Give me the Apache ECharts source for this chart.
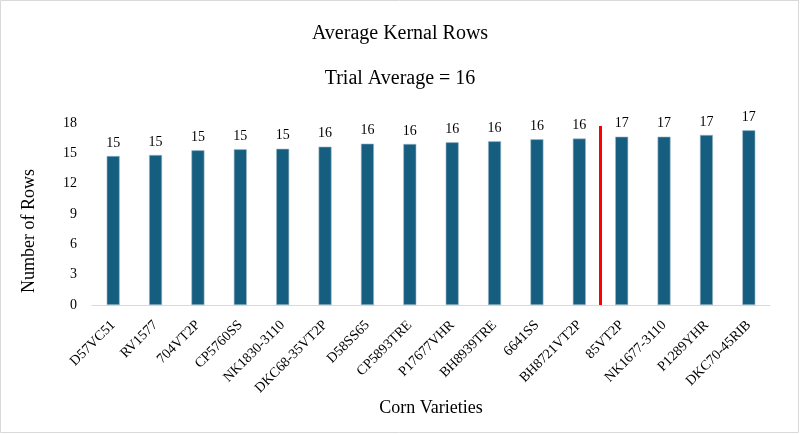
<!DOCTYPE html>
<html><head><meta charset="utf-8">
<script src="https://cdn.jsdelivr.net/npm/echarts@6/dist/echarts.min.js"></script>
<style>html,body{margin:0;padding:0;background:#fff}#c{width:800px;height:434px}</style>
</head><body><div id="c"></div>
<script>
const varieties = ["D57VC51","RV1577","704VT2P","CP5760SS","NK1830-3110","DKC68-35VT2P","D58SS65","CP5893TRE","P17677VHR","BH8939TRE","6641SS","BH8721VT2P","85VT2P","NK1677-3110","P1289YHR","DKC70-45RIB"];
const avgRows = [14.74,14.84,15.3,15.4,15.45,15.66,15.96,15.93,16.09,16.19,16.39,16.46,16.65,16.65,16.82,17.28];
const yTicks = [0,3,6,9,12,15,18];
const trialLineX = 11.5;
const trialLineTop = 17.7;
const font = "'Liberation Serif','Times New Roman',serif";

const chart = echarts.init(document.getElementById('c'));
chart.setOption({
  backgroundColor:'#fff',
  animation:false,
  title:[
    {text:'Average Kernal Rows',left:'center',top:19,textStyle:{fontFamily:font,fontSize:20,fontWeight:'normal',color:'#000'}},
    {text:'Trial Average = 16',left:'center',top:64,textStyle:{fontFamily:font,fontSize:20,fontWeight:'normal',color:'#000'}}
  ],
  graphic:[{type:'rect',shape:{x:0.5,y:0.5,width:798,height:432},style:{fill:'none',stroke:'#d9d9d9',lineWidth:1}}],
  grid:{left:92,right:30,top:123,bottom:129},
  xAxis:[
    {type:'category',data:varieties,
     axisLine:{lineStyle:{color:'#d9d9d9'}},axisTick:{show:false},
     axisLabel:{rotate:45,fontFamily:font,fontSize:14,color:'#000',margin:18,interval:0},
     name:'Corn Varieties',nameLocation:'middle',nameGap:94,
     nameTextStyle:{fontFamily:font,fontSize:18,color:'#000'}},
    {type:'value',min:-0.5,max:15.5,show:false}
  ],
  yAxis:{type:'value',min:0,max:18,interval:3,
    axisLine:{show:false},axisTick:{show:false},splitLine:{show:false},
    axisLabel:{fontFamily:font,fontSize:14,color:'#000',margin:15,
      formatter:v=>yTicks.includes(v)?String(v):''},
    name:'Number of Rows',nameLocation:'middle',nameGap:54,
    nameTextStyle:{fontFamily:font,fontSize:18,color:'#000',padding:[0,34,0,0]}},
  series:[
    {type:'bar',data:avgRows,barWidth:13,
     itemStyle:{color:'#165e80',borderColor:'#9fbccb',borderWidth:0.6},
     label:{show:true,position:'top',distance:6,fontFamily:font,fontSize:14,color:'#000',
       formatter:p=>Math.round(p.value)}},
    {type:'line',xAxisIndex:1,data:[[trialLineX,0],[trialLineX,trialLineTop]],
     symbol:'none',lineStyle:{color:'#ff0000',width:3},z:5}
  ]
});
</script></body></html>
